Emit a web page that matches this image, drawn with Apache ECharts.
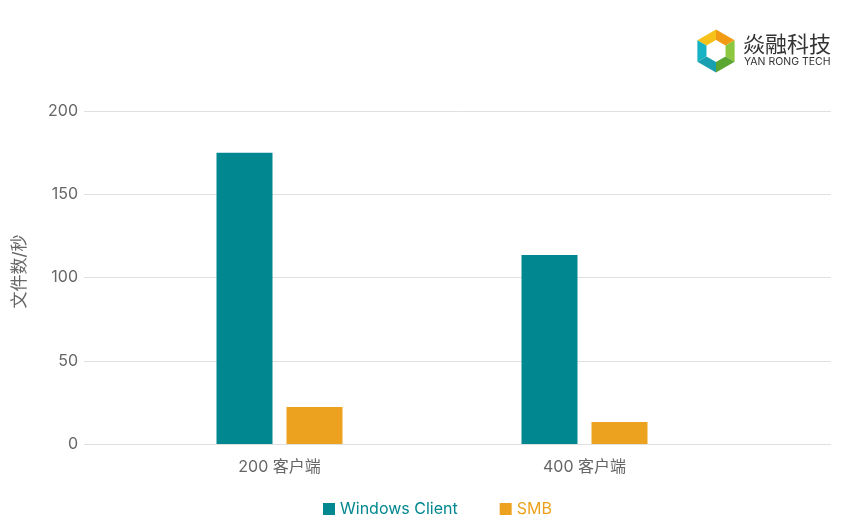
<!DOCTYPE html>
<html><head><meta charset="utf-8">
<script src="https://cdn.jsdelivr.net/npm/echarts@6/dist/echarts.min.js"></script>
<style>html,body{margin:0;padding:0;background:#fff}#c{width:856px;height:531px}</style>
</head><body><div id="c"></div>
<script>
var categories = ['200 客户端', '400 客户端'];
var seriesNames = ['Windows Client', 'SMB'];
var windowsClient = [175, 113.5];
var smb = [22.2, 13.2];
var yTicks = [0, 50, 100, 150, 200];
var yName = '文件数/秒';

var colors = ['#00878f', '#eca21e'];
var font = 'Inter, "Noto Sans CJK SC", sans-serif';
var chart = echarts.init(document.getElementById('c'), null, {renderer: 'canvas'});

// logo geometry
var cx = 716, cy = 51, R = 21.5, r = 11;
function pt(rad, ang) { var a = ang * Math.PI / 180; return [cx + rad * Math.cos(a), cy + rad * Math.sin(a)]; }
function seg(a1, a2, color) {
  return {type: 'polygon', shape: {points: [pt(R, a1), pt(R, a2), pt(r, a2), pt(r, a1)]}, style: {fill: color}};
}
var logo = [
  seg(-150, -90, '#f6c21a'), seg(-90, -30, '#f39a14'),
  seg(-30, 30, '#8dc63f'), seg(30, 90, '#5aa630'),
  seg(90, 150, '#1a9fb0'), seg(150, 210, '#17b3c4'),
  {type: 'polygon', shape: {points: [pt(r, -90), pt(r, 30), pt(r, 150)]}, style: {fill: '#fff'}},
  {type: 'text', left: 743, top: 33, style: {text: '焱融科技', font: '22px "Noto Sans CJK SC"', fill: '#333'}},
  {type: 'text', left: 744, top: 57, style: {text: 'YAN RONG TECH', font: '10.5px ' + font, fill: '#333'}}
];

chart.setOption({
  backgroundColor: '#fff',
  color: colors,
  textStyle: {fontFamily: font},
  graphic: logo,
  legend: {
    data: seriesNames, bottom: 9, left: 318, itemWidth: 12, itemHeight: 12, itemGap: 42,
    icon: 'rect',
    textStyle: {fontSize: 16, fontFamily: font, color: 'inherit'}
  },
  grid: [
    {left: 84, right: 25, top: 111, bottom: 87},
    {left: 127, right: 119, top: 111, bottom: 87}
  ],
  xAxis: [
    {gridIndex: 0, type: 'category', data: categories, show: false},
    {gridIndex: 1, type: 'category', data: categories,
      axisLine: {show: false}, axisTick: {show: false},
      axisLabel: {fontSize: 16, color: '#666', margin: 15, fontFamily: font}}
  ],
  yAxis: [
    {gridIndex: 0, type: 'value', min: yTicks[0], max: yTicks[yTicks.length - 1], interval: 50,
      name: yName, nameLocation: 'middle', nameGap: 56, nameRotate: 90,
      nameTextStyle: {fontSize: 17, color: '#666', fontFamily: font, padding: [0, 0, 0, 12]},
      axisLine: {show: false}, axisTick: {show: false},
      axisLabel: {fontSize: 16, color: '#666', margin: 6},
      splitLine: {lineStyle: {color: '#e0e0e0', width: 1}}},
    {gridIndex: 1, type: 'value', min: yTicks[0], max: yTicks[yTicks.length - 1], interval: 50, show: false}
  ],
  series: [
    {name: seriesNames[0], type: 'bar', xAxisIndex: 1, yAxisIndex: 1, data: windowsClient,
      barWidth: 56, barGap: '25%', itemStyle: {color: colors[0]}},
    {name: seriesNames[1], type: 'bar', xAxisIndex: 1, yAxisIndex: 1, data: smb,
      barWidth: 56, barGap: '25%', itemStyle: {color: colors[1]}}
  ]
});
</script></body></html>
